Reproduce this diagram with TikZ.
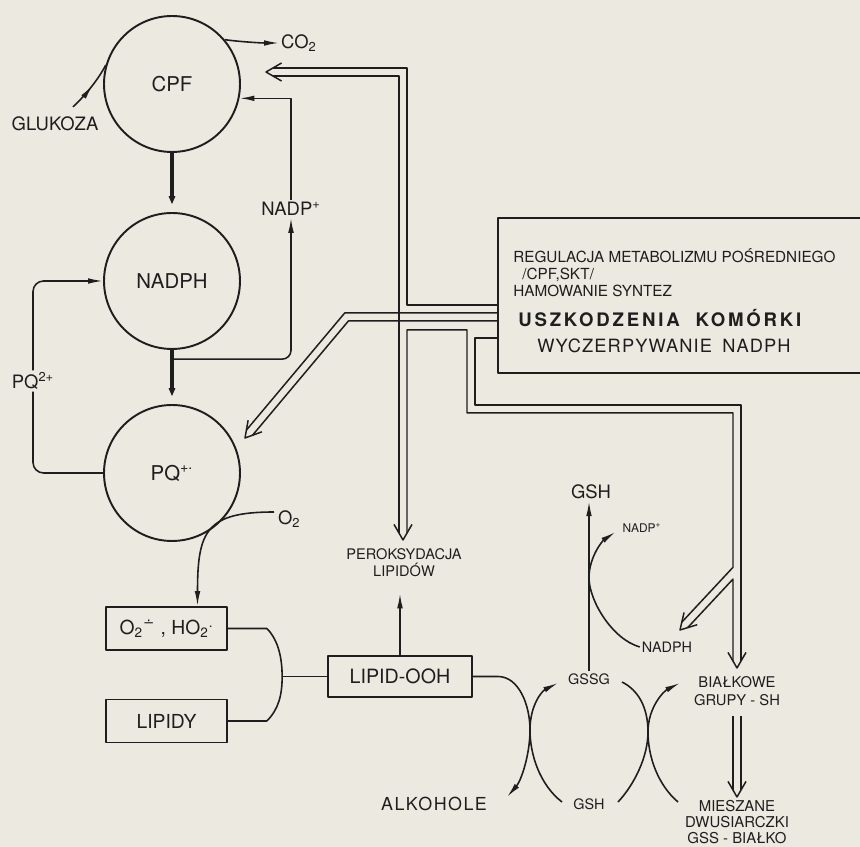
\documentclass[tikz,border=0pt]{standalone}
\usepackage{fontspec}
\setmainfont{TeX Gyre Heros}
\newfontfamily\symfont{DejaVu Sans}
\usetikzlibrary{arrows.meta,calc,decorations.markings}
\definecolor{paper}{RGB}{236,233,225}
\definecolor{ink}{RGB}{30,30,30}
% otwarty grot podwojnej strzalki: #1 - wierzcholek, #2 - kierunek
\newcommand\dblhead[2]{%
  \coordinate (#1-a) at ($(#1)+(#2+180:6.9)+(#2+90:4)$);
  \coordinate (#1-b) at ($(#1)+(#2+180:6.9)+(#2-90:4)$);
  \draw[pipe] ($(#1)+(#2+150:18)$) -- (#1) -- ($(#1)+(#2+210:18)$);}
\begin{document}
\begin{tikzpicture}[x=0.02cm, y=-0.02cm, line join=round,
  every node/.style={text=ink, inner sep=1pt},
  circ/.style={circle, draw=ink, line width=1.1pt, minimum size=2.72cm, inner sep=0pt,
    font=\fontsize{11.6pt}{13pt}\selectfont},
  sbox/.style={draw=ink, line width=1pt, minimum width=2.42cm, minimum height=0.86cm,
    font=\fontsize{11pt}{12pt}\selectfont},
  lab/.style={font=\fontsize{10.5pt}{12pt}\selectfont},
  txtm/.style={font=\fontsize{8.2pt}{9.6pt}\selectfont, align=center},
  txts/.style={font=\fontsize{6.8pt}{8pt}\selectfont},
  boxtxt/.style={font=\fontsize{8.7pt}{10pt}\selectfont, anchor=base west, inner sep=0pt},
  link/.style={draw=ink, line width=0.9pt},
  arr/.style={link, -{Latex[length=8.5pt,width=3.2pt]}},
  midarr/.style={link, postaction={decorate}, decoration={markings,
    mark=at position 0.55 with {\arrow{Latex[length=8.5pt,width=3.2pt]}}}},
  fat/.style={draw=ink, line width=1.8pt, -{Latex[length=9pt,width=3.6pt]}},
  pipe/.style={draw=ink, line width=0.85pt},
]
\useasboundingbox (0,0) rectangle (860,847);
\fill[paper] (0,0) rectangle (860,847);

% kola
\node[circ] (cpf) at (172,84) {CPF};
\node[circ] (nadph) at (172,281) {NADPH};
\node[circ] (pq) at (172,473) {PQ\textsuperscript{+\raisebox{.45ex}{.}}};

% etykiety po lewej
\node[lab] (gluk) at (55,124) {GLUKOZA};
\node[lab, anchor=west] (co2) at (279,43) {CO\textsubscript{2}};
\node[lab] (nadpp) at (291,209) {NADP\textsuperscript{+}};
\node[lab] (pq2) at (33,381) {PQ\textsuperscript{2+}};
\node[lab, anchor=west] (o2) at (276,519) {O\textsubscript{2}};

% prostokaty
\node[sbox] (supox) at (166.5,628.5)
  {O\textsubscript{2}\textsuperscript{\symfont ∸} , HO\textsubscript{2}\textsuperscript{.}};
\node[sbox] (lipidy) at (166.5,721) {LIPIDY};
\node[sbox, minimum width=2.88cm, minimum height=0.82cm,
  font=\fontsize{11.2pt}{13pt}\selectfont] (lipoh) at (400,676.5) {LIPID-OOH};

% duzy prostokat
\node[draw=ink, line width=1pt, anchor=north west, minimum width=8.6cm,
  minimum height=3.1cm, inner sep=0pt] (damage) at (497,217) {};
\node[boxtxt] (reg) at (513,263) {REGULACJA METABOLIZMU POŚREDNIEGO};
\node[boxtxt] (cpfskt) at (522,280) {/CPF,SKT/};
\node[boxtxt] (hamow) at (513,297) {HAMOWANIE SYNTEZ};
\node[boxtxt, font=\fontsize{10.6pt}{12pt}\selectfont\bfseries\addfontfeature{LetterSpace=15}]
  (uszk) at (518,327) {USZKODZENIA\hspace{9pt}KOMÓRKI};
\node[boxtxt, font=\fontsize{10.4pt}{12pt}\selectfont\addfontfeature{LetterSpace=6}]
  (wycz) at (537,353) {WYCZERPYWANIE\hspace{6pt}NADPH};

% etykiety po prawej
\node[txtm, font=\fontsize{8.3pt}{9.8pt}\selectfont] (perox) at (404,563) {PEROKSYDACJA\\LIPIDÓW};
\node[lab] (gshtop) at (591,492) {GSH};
\node[txts] (nadpps) at (642,528) {NADP\textsuperscript{+}};
\node[txtm] (nadphs) at (667,647) {NADPH};
\node[txtm] (gssg) at (589,679) {GSSG};
\node[txtm] (gshb) at (589,804) {GSH};
\node[lab, font=\fontsize{10.2pt}{12pt}\selectfont\addfontfeature{LetterSpace=8}] (alk) at (434,804) {ALKOHOLE};
\node[txtm, font=\fontsize{8.4pt}{10pt}\selectfont] (bialk) at (737,691) {BIAŁKOWE\\GRUPY - SH};
\node[txtm, font=\fontsize{8.5pt}{9.3pt}\selectfont] (miesz) at (737,822) {MIESZANE\\DWUSIARCZKI\\GSS - BIAŁKO};

% strzalki pojedyncze
\draw[midarr] ($(gluk.north)+(18,-8)$) .. controls +(12,-11) and +(-7,14) .. (cpf.164);
\draw[arr] (cpf.40) .. controls +(14,2) and +(-18,0) .. (co2.west);
\draw[fat] (cpf) -- (nadph);
\draw[fat] (nadph) -- (pq);
\coordinate (split) at ($(nadph.south)!0.17!(pq.north)$);
\draw[arr, rounded corners=5pt] (split) -- (split -| nadpp) -- (nadpp.south);
\draw[arr] (nadpp.north) -- (nadpp.north |- cpf.-12) -- (cpf.-12);
\draw[link, rounded corners=6pt] (pq.west) -| (pq2.south);
\draw[arr, rounded corners=6pt] (pq2.north) |- (nadph.west);
\draw[arr] ($(o2.west)+(-2,-7)$) .. controls +(-68,0) and +(0,-75) .. ($(supox.north)+(31,0)$);

% laczenie O2 / LIPIDY -> LIPID-OOH
\coordinate (fork) at ($(lipoh.west)+(-45,0)$);
\draw[link] (supox.east) -- ++(39,0) .. controls +(12,12) and +(0,-17) .. (fork)
  .. controls +(0,18) and +(12,-12) .. ($(lipidy.east)+(39,0)$) -- (lipidy.east);
\draw[link] (fork) -- (lipoh.west);
\draw[arr, shorten >=8pt] (lipoh.north) -- (lipoh.north |- perox.south);

% cykl glutationu
\draw[arr] (gssg.north) -- (gssg.north |- gshtop.south);
\coordinate (nbend) at (589,578);
\draw[arr] (nadphs.west) .. controls +(-28,-8) and +(0,22) .. (nbend)
  .. controls +(0,-22) and +(-12,8) .. ($(nadpps.west)+(-5,4)$);
\coordinate (kissL) at (530,730);
\coordinate (kissR) at (648,732);
\draw[arr] (lipoh.east) -- ++(25,0) .. controls +(21,0) and +(0,-25) .. (kissL)
  .. controls +(0,25) and +(14,-16) .. ($(kissL)+(-23,67)$);
\draw[arr] ($(kissL)+(32,72)$) .. controls +(-22,-17) and +(0,25) .. (kissL)
  .. controls +(0,-25) and +(-16,8) .. ($(kissL)+(28,-47)$);
\draw[link] ($(kissR)+(-26,-50)$) .. controls +(16,8) and +(0,-25) .. (kissR)
  .. controls +(0,25) and +(16,-17) .. ($(kissR)+(-30,70)$);
\draw[arr] ($(kissR)+(30,70)$) .. controls +(-20,-17) and +(0,25) .. (kissR)
  .. controls +(0,-25) and +(-16,8) .. ($(kissR)+(32,-49)$);

% strzalki podwojne
\coordinate (tocpf) at (266,72);
\dblhead{tocpf}{180}
\coordinate (topq) at (245,438);
\dblhead{topq}{130}
\coordinate (toperox) at (403,540);
\dblhead{toperox}{90}
\coordinate (tonadph) at (680,630);
\dblhead{tonadph}{133}
\coordinate (tobialk) at (737,668);
\dblhead{tobialk}{90}
\coordinate (tomiesz) at (737,797);
\dblhead{tomiesz}{90}

\draw[pipe] (tocpf-a) -- (407,68) -- (407,305) -- (497,305);
\draw[pipe] (tocpf-b) -- (399,76) -- (toperox-a);
\draw[pipe] (497,313) -- (344.7,313) -- (topq-a);
\draw[pipe] (497,321) -- (348.4,321) -- (topq-b);
\draw[pipe] (toperox-b) -- (407,330) -- (467,330) -- (467,413) -- (733,413)
  -- (733,567.3) -- (tonadph-a);
\draw[pipe] (497,338) -- (475,338) -- (475,405) -- (741,405) -- (tobialk-b);
\draw[pipe] (tonadph-b) -- (733,579.1) -- (tobialk-a);
\draw[pipe] (733,716) -- (tomiesz-a);
\draw[pipe] (741,716) -- (tomiesz-b);
\end{tikzpicture}
\end{document}
